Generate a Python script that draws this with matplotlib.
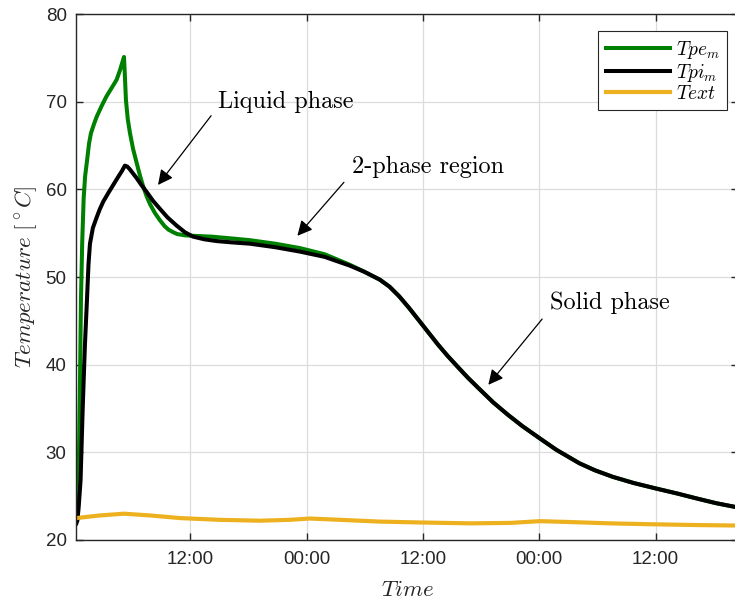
import numpy as np
import pandas as pd
import matplotlib
matplotlib.use('Agg')
import matplotlib.pyplot as plt
import matplotlib.dates as mdates

plt.rcParams['mathtext.fontset'] = 'cm'
plt.rcParams['font.family'] = ['Liberation Sans', 'DejaVu Sans']

START = pd.Timestamp('2021-06-01 00:15')

# hours since start / temperature
tpe_h = [0.0, 0.16, 0.27, 0.37, 0.47, 0.6, 0.75, 0.9, 1.1, 1.3, 1.5, 1.8, 2.1, 2.6,
         3.1, 3.6, 4.15, 4.5, 4.91, 5.0, 5.11, 5.3, 5.53, 5.85, 6.22, 6.55, 6.9,
         7.25, 7.6, 8.1, 8.6, 9.1, 9.5, 10.0, 10.4, 11.2, 12.0, 14.0, 16.0, 17.9,
         20.5, 23.05, 25.6, 28.2, 29.7, 31.3, 32.3, 33.3, 34.3, 35.3, 36.3, 37.3,
         38.3, 39.3, 40.4, 41.6, 43.0, 44.5, 46.0, 47.8, 49.5, 51.9, 53.5, 55.35,
         57.5, 59.7, 62.0, 63.95, 66.0, 68.3]
tpe_T = [22.3, 22.5, 30.0, 38.0, 47.4, 54.0, 59.0, 61.5, 63.3, 65.2, 66.4, 67.4, 68.3,
         69.5, 70.6, 71.5, 72.5, 73.6, 75.1, 73.0, 70.2, 68.0, 66.4, 64.6, 63.0, 61.6,
         60.3, 59.2, 58.3, 57.3, 56.5, 55.8, 55.4, 55.1, 54.9, 54.75, 54.7, 54.6,
         54.4, 54.2, 53.8, 53.3, 52.6, 51.4, 50.6, 49.7, 48.9, 47.8, 46.5, 45.1,
         43.7, 42.3, 41.0, 39.8, 38.5, 37.2, 35.7, 34.3, 33.0, 31.6, 30.3, 28.75,
         27.95, 27.2, 26.5, 25.9, 25.3, 24.75, 24.2, 23.7]

tpi_h = [0.0, 0.1, 0.25, 0.43, 0.65, 0.87, 1.09, 1.25, 1.4, 1.7, 2.09, 2.4, 2.77,
         3.3, 3.8, 4.3, 4.7, 5.0, 5.25, 5.5, 5.85, 6.2, 6.7, 7.25, 7.9, 8.6, 9.4,
         10.3, 11.2, 12.05, 13.2, 14.45, 16.0, 17.9, 20.5, 23.05, 25.6, 28.2, 29.7,
         31.3, 32.3, 33.3, 34.3, 35.3, 36.3, 37.3, 38.3, 39.3, 40.4, 41.6, 43.0,
         44.5, 46.0, 47.8, 49.5, 51.9, 53.5, 55.35, 57.5, 59.7, 62.0, 63.95, 66.0,
         68.3]
tpi_T = [21.9, 22.2, 24.0, 26.8, 35.0, 42.0, 47.4, 51.5, 53.8, 55.6, 56.8, 57.7, 58.6,
         59.6, 60.5, 61.4, 62.1, 62.7, 62.6, 62.3, 61.8, 61.3, 60.5, 59.7, 58.7, 57.8,
         56.8, 55.9, 55.1, 54.6, 54.3, 54.1, 53.95, 53.8, 53.4, 52.9, 52.3, 51.3,
         50.6, 49.7, 48.9, 47.8, 46.5, 45.1, 43.7, 42.3, 41.0, 39.8, 38.5, 37.2,
         35.7, 34.3, 33.0, 31.6, 30.3, 28.75, 27.95, 27.2, 26.5, 25.9, 25.3, 24.75,
         24.2, 23.7]

text_h = [0.0, 2.4, 4.9, 7.6, 10.7, 14.8, 18.9, 22.0, 24.1, 27.2, 31.3, 35.4, 40.6,
          44.8, 47.8, 50.9, 55.0, 59.1, 64.3, 68.3]
text_T = [22.5, 22.8, 23.0, 22.8, 22.5, 22.3, 22.2, 22.3, 22.45, 22.3, 22.1, 22.0, 21.9,
          21.95, 22.15, 22.05, 21.9, 21.8, 21.7, 21.65]

labels = [r'$Tpe_m$', r'$Tpi_m$', r'$Text$']
colors = ['#008000', 'k', '#EDB120']
notes = ['Liquid phase', '2-phase region', 'Solid phase']


def to_time(h):
    return START + pd.to_timedelta(np.array(h), unit='h')


fig = plt.figure(figsize=(7.35, 6.03), dpi=100)
ax = fig.add_axes([76.4 / 735, 1 - 540 / 603, 662 / 735, 526 / 603])

ax.plot(to_time(tpe_h), tpe_T, color=colors[0], lw=2.9, label=labels[0])
ax.plot(to_time(tpi_h), tpi_T, color=colors[1], lw=2.9, label=labels[1])
ax.plot(to_time(text_h), text_T, color=colors[2], lw=3.0, label=labels[2])

ax.set_xlim(START, START + pd.Timedelta(hours=68.3))
ax.set_ylim(20, 80)
ax.set_yticks(range(20, 81, 10))
ax.xaxis.set_major_locator(mdates.HourLocator(byhour=[0, 12]))
ax.xaxis.set_major_formatter(mdates.DateFormatter('%H:%M'))

edge = '#262626'
for s in ax.spines.values():
    s.set_color(edge)
    s.set_linewidth(1.0)
ax.tick_params(direction='in', length=5, width=1.0, color=edge, labelcolor=edge,
               labelsize=13.5, top=True, right=True)
ax.tick_params(axis='x', pad=8)
ax.tick_params(axis='y', pad=7)
ax.grid(True, color='#dcdcdc', lw=0.9)
ax.set_axisbelow(True)

ax.set_xlabel(r'$Time$', fontsize=16.5, color=edge, labelpad=7)
ax.set_ylabel(r'$Temperature\ [^\circ C]$', fontsize=16.5, color=edge, labelpad=4)

# arrows: (text pos, arrow tail, arrow tip) in hours / degC
note_pos = [(14.6, 70.0), (28.4, 62.5), (48.9, 47.1)]
tails = [(13.9, 68.4), (27.6, 60.8), (48.05, 45.2)]
tips = [(8.42, 60.5), (22.8, 54.7), (42.5, 37.7)]
for txt, p, a, b in zip(notes, note_pos, tails, tips):
    ax.annotate('', xy=(mdates.date2num(to_time([b[0]])[0]), b[1]),
                xytext=(mdates.date2num(to_time([a[0]])[0]), a[1]),
                arrowprops=dict(arrowstyle='-|>,head_length=0.9,head_width=0.45',
                                color='k', lw=0.9, shrinkA=0, shrinkB=0,
                                mutation_scale=10))
    ax.text(to_time([p[0]])[0], p[1], txt, family='cmr10', fontsize=17.5,
            va='center', ha='left')

leg = ax.legend(loc='upper right', bbox_to_anchor=(0.9828, 0.968), borderaxespad=0,
                fontsize=14, handlelength=3.3, handletextpad=0.3,
                labelspacing=0.05, fancybox=False, edgecolor='#262626',
                framealpha=1)
leg.get_frame().set_linewidth(0.8)

fig.savefig('out.png', dpi=100)
